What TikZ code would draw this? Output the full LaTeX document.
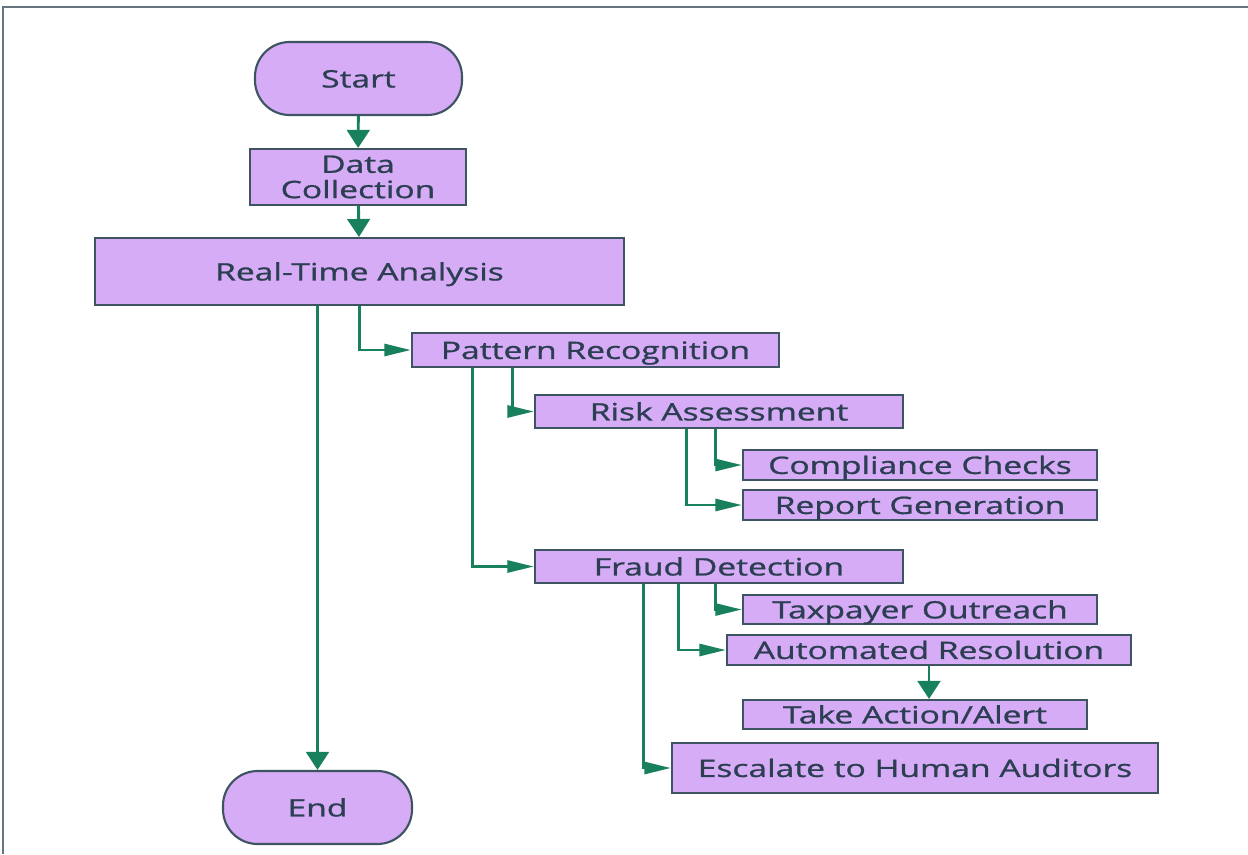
\documentclass[tikz,border=0pt]{standalone}
\usepackage{fontspec}
\setmainfont{Open Sans}
\newfontfamily\boxfont{Open Sans}[RawFeature={embolden=0.9}]
\usetikzlibrary{arrows.meta,calc}
\definecolor{boxfill}{RGB}{214,172,246}
\definecolor{boxline}{RGB}{62,84,98}
\definecolor{boxtext}{RGB}{44,62,82}
\definecolor{conncol}{RGB}{24,128,92}
\newcommand\wt[1]{\scalebox{1.4}[1]{#1}}
\tikzset{
  box/.style={draw=boxline, fill=boxfill, line width=1.6pt, inner sep=0pt,
    text=boxtext, font=\boxfont\fontsize{18}{19}\selectfont, align=center,
    text height=13.4pt, text depth=0pt},
  term/.style={box, rounded corners=26pt},
  vconn/.style={draw=conncol, line width=2.2pt, -{Triangle[length=13.5pt,width=17pt]}},
  hconn/.style={draw=conncol, line width=2.2pt, -{Triangle[length=20pt,width=9pt]}},
}
\newcommand\mybox[7][box]{\node[#1,minimum width={(#4-#2)*0.75pt},minimum height={(#5-#3)*0.75pt}] (#6) at ({(#2+#4)/2},{(#3+#5)/2}) {#7};}
\begin{document}
\begin{tikzpicture}[x=0.75pt,y=-0.75pt]
\useasboundingbox (0,0) rectangle (1248,854);
\draw[line width=1.2pt, draw=boxline!80] (3,854) -- (3,7) -- (1248,7);
\mybox[term]{255}{42}{462}{115}{start}{\wt{Start}}
\mybox[box,text height=,text depth=]{250}{149}{466}{205}{dc}{\wt{Data}\\\wt{Collection}}
\mybox{95}{238}{624}{305}{rta}{\wt{Real-Time Analysis}}
\mybox{412}{333}{779}{367}{pr}{\wt{Pattern Recognition}}
\mybox{535}{395}{903}{428}{ra}{\wt{Risk Assessment}}
\mybox{743}{450}{1097}{480}{cc}{\wt{Compliance Checks}}
\mybox{743}{490}{1097}{520}{rg}{\wt{Report Generation}}
\mybox{535}{550}{903}{583}{fd}{\wt{Fraud Detection}}
\mybox{743}{595}{1097}{624}{to}{\wt{Taxpayer Outreach}}
\mybox{727}{635}{1131}{665}{ar}{\wt{Automated Resolution}}
\mybox{743}{700}{1087}{729}{taa}{\wt{Take Action/Alert}}
\mybox{672}{743}{1158}{793}{esc}{\wt{Escalate to Human Auditors}}
\mybox[term]{223}{771}{412}{844}{end}{\wt{End}}
\draw[vconn] (start) -- (dc);
\draw[vconn] (dc) -- (rta);
\draw[vconn] (rta.south -| end.north) -- (end.north);
\draw[hconn] (rta.south) |- (pr.west);
\draw[hconn] ($(pr.south west)+(102,0)$) |- (ra.west);
\draw[hconn] ($(pr.south west)+(62,0)$) |- (fd.west);
\draw[hconn] ($(ra.south west)+(182,0)$) |- (cc.west);
\draw[hconn] ($(ra.south west)+(153,0)$) |- (rg.west);
\draw[hconn] ($(fd.south west)+(182,0)$) |- (to.west);
\draw[hconn] ($(fd.south west)+(145,0)$) |- (ar.west);
\draw[hconn] ($(fd.south west)+(110,0)$) |- (esc.west);
\draw[vconn] (ar.south) -- (ar.south |- taa.north);
\end{tikzpicture}
\end{document}
